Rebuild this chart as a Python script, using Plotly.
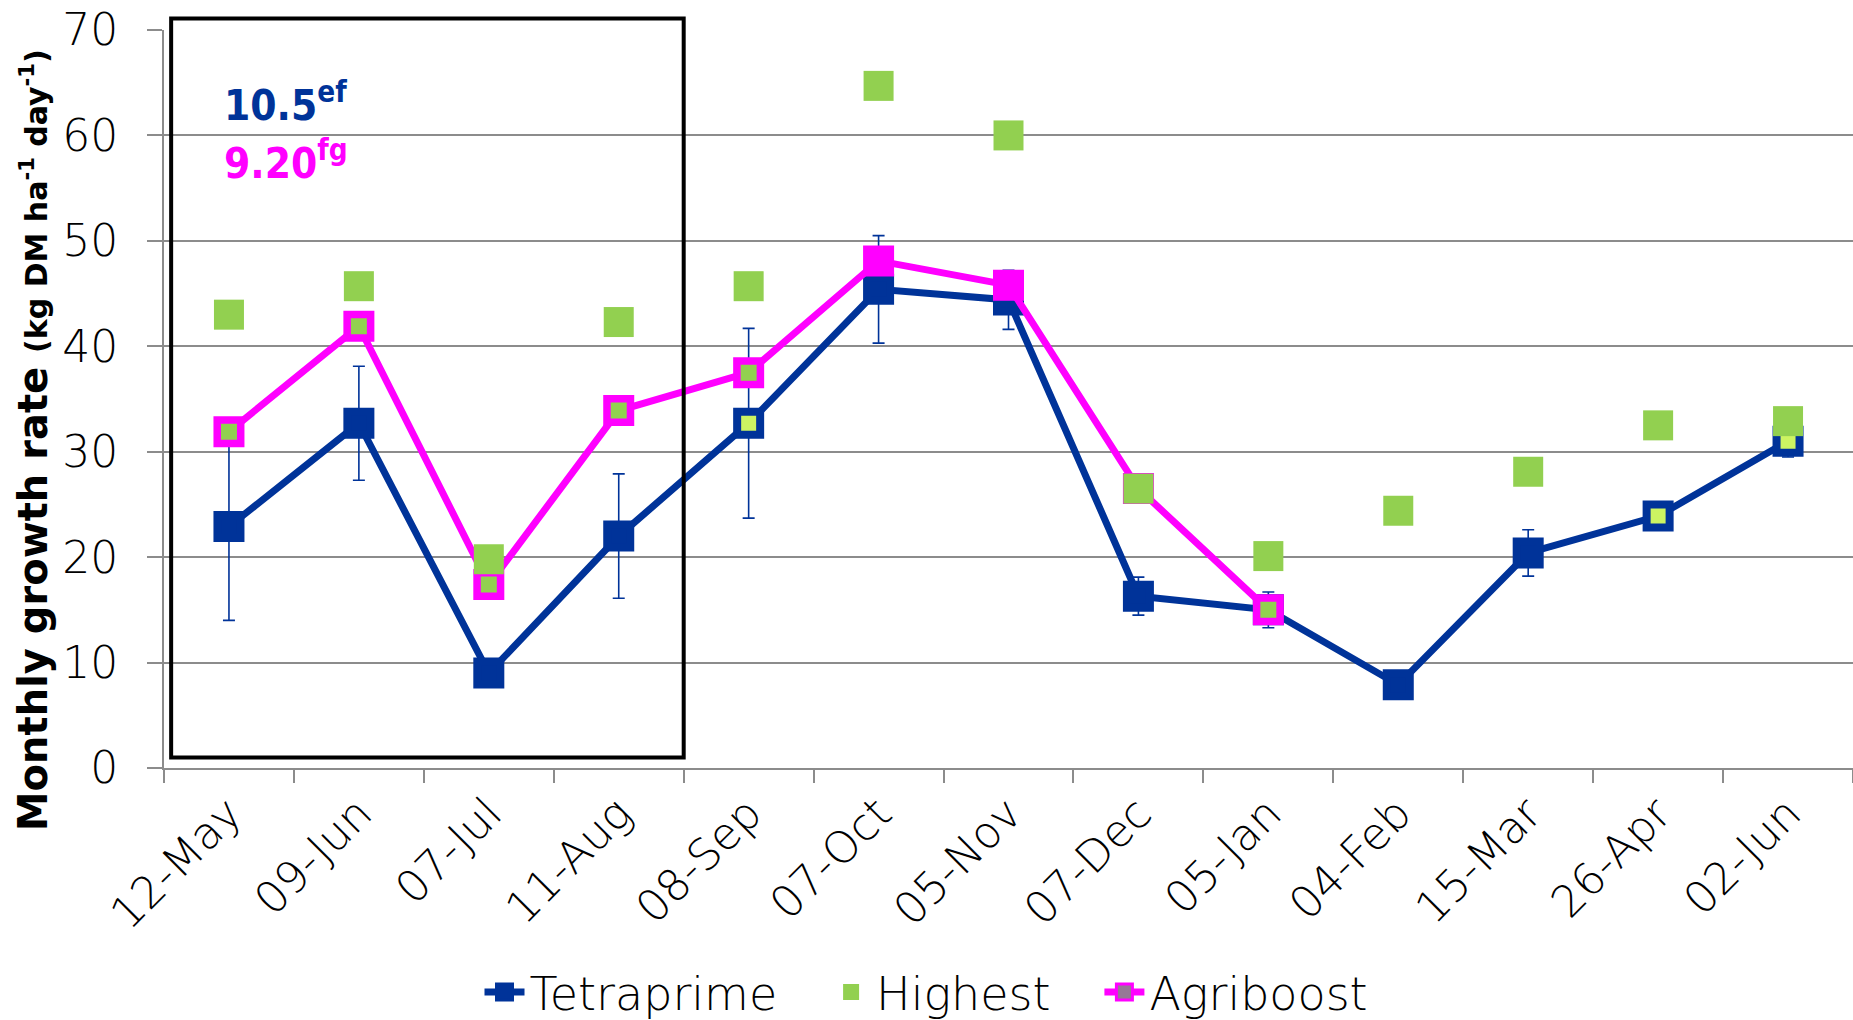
import plotly.graph_objects as go

# ---------------- data ----------------
categories = ["12-May", "09-Jun", "07-Jul", "11-Aug", "08-Sep", "07-Oct", "05-Nov",
              "07-Dec", "05-Jan", "04-Feb", "15-Mar", "26-Apr", "02-Jun"]
tetraprime = [22.9, 32.7, 9.0, 22.0, 32.7, 45.4, 44.4, 16.3, 15.0, 7.9, 20.4, 23.9, 31.0]
tetraprime_err = [8.9, 5.4, 0, 5.9, 9.0, 5.1, 2.8, 1.8, 1.7, 0, 2.2, 0, 1.5]
agriboost = [31.9, 41.9, 17.4, 33.9, 37.5, 48.1, 45.8, 26.5, 15.0, None, None, None, None]
highest = [43.0, 45.7, 19.8, 42.3, 45.7, 64.7, 60.0, 26.5, 20.1, 24.4, 28.1, 32.5, 32.9]

series_names = ["Tetraprime", "Highest", "Agriboost"]

# annotation texts / box extent (category index, value)
note_tetra = "10.5<sup>ef</sup>"
note_agri = "9.20<sup>fg</sup>"
box_cat = (-0.445, 3.5)
box_val = (1.0, 71.1)

# ---------------- styles ----------------
BLUE = "#003399"
PINK = "#FF00FF"
GREEN = "#92D050"
LIGHT = "#CCF462"
GRID = "#8C8C8C"
TICK_FONT = dict(family="DejaVu Sans", size=44, color="black", weight=300)

tetra_fill = [BLUE] * len(categories)
for i in (4, 11, 12):
    tetra_fill[i] = LIGHT
agri_fill = [GREEN] * len(categories)
for i in (5, 6):
    agri_fill[i] = PINK

W, H = 1853, 1020
L, R, T, B = 164, 0, 29.5, 252
YMAX = 70
n = len(categories)
PAD = "\u00a0\u00a0\u00a0"

fig = go.Figure()

fig.add_trace(go.Scatter(
    x=categories, y=tetraprime, mode="lines+markers", name=series_names[0],
    line=dict(color=BLUE, width=7),
    marker=dict(symbol="square", size=23, color=tetra_fill,
                line=dict(color=BLUE, width=8)),
    error_y=dict(type="data", array=tetraprime_err, visible=True,
                 color=BLUE, thickness=1.6, width=6),
    showlegend=False,
))
fig.add_trace(go.Scatter(
    x=categories, y=agriboost, mode="lines+markers", name=series_names[2],
    line=dict(color=PINK, width=7),
    marker=dict(symbol="square", size=23.5, color=agri_fill,
                line=dict(color=PINK, width=7.5)),
    connectgaps=False, showlegend=False,
))
fig.add_trace(go.Scatter(
    x=categories, y=highest, mode="markers", name=series_names[1],
    marker=dict(symbol="square", size=30, color=GREEN, line=dict(width=0)),
    showlegend=False,
))

# legend entries
fig.add_trace(go.Scatter(
    x=[None], y=[None], mode="lines+markers", name=series_names[0] + PAD,
    line=dict(color=BLUE, width=7),
    marker=dict(symbol="square", size=16, color=BLUE, line=dict(color=BLUE, width=3)),
))
fig.add_trace(go.Scatter(
    x=[None], y=[None], mode="markers", name=series_names[1] + PAD,
    marker=dict(symbol="square", size=16, color=GREEN),
))
fig.add_trace(go.Scatter(
    x=[None], y=[None], mode="lines+markers", name=series_names[2],
    line=dict(color=PINK, width=7),
    marker=dict(symbol="square", size=16, color="#967896", line=dict(color=PINK, width=3)),
))

plot_h = H - T - B
plot_w = W - L - R


def px_x(cat_idx):
    return (cat_idx + 0.5) / n


fig.add_shape(type="rect", xref="paper", yref="paper",
              x0=px_x(box_cat[0]), x1=px_x(box_cat[1]),
              y0=box_val[0] / YMAX, y1=box_val[1] / YMAX,
              line=dict(color="black", width=4), fillcolor="rgba(0,0,0,0)", layer="above")

ANN_FONT = "DejaVu Sans Condensed, Liberation Sans Narrow, Arial Narrow, sans-serif"
fig.add_annotation(text=f"<b>{note_tetra}</b>", xref="paper", yref="paper",
                   x=(222 - L) / plot_w, y=(H - B - 102) / plot_h,
                   xanchor="left", yanchor="middle", showarrow=False,
                   font=dict(family=ANN_FONT, size=42, color=BLUE))
fig.add_annotation(text=f"<b>{note_agri}</b>", xref="paper", yref="paper",
                   x=(222 - L) / plot_w, y=(H - B - 160) / plot_h,
                   xanchor="left", yanchor="middle", showarrow=False,
                   font=dict(family=ANN_FONT, size=42, color=PINK))

fig.add_annotation(
    text="<b>Monthly growth rate <span style='font-size:30px'>(kg DM ha<sup>-1</sup> day<sup>-1</sup>)</span></b>",
    xref="paper", yref="paper", x=(33 - L) / plot_w, y=(H - B - 440) / plot_h,
    xanchor="center", yanchor="middle", textangle=-90, showarrow=False,
    font=dict(family="DejaVu Sans", size=40, color="black"))

fig.update_layout(
    width=W, height=H,
    margin=dict(l=L, r=R, t=T, b=B, autoexpand=False),
    paper_bgcolor="white", plot_bgcolor="white",
    legend=dict(orientation="h", xref="container", yref="container",
                x=0.5, xanchor="center", y=(H - 992) / H, yanchor="middle",
                font=dict(family="DejaVu Sans", size=46, color="black", weight=300),
                itemwidth=40, tracegroupgap=0, bgcolor="rgba(0,0,0,0)"),
    xaxis=dict(type="category", categoryorder="array", categoryarray=categories,
               range=[-0.5, n - 0.5], tickson="boundaries", ticks="outside",
               ticklen=13, tickwidth=2, tickcolor=GRID, showline=True,
               linecolor=GRID, linewidth=2, showgrid=False, tickangle=-45,
               tickfont=TICK_FONT),
    yaxis=dict(range=[0, YMAX], dtick=10, showgrid=True, gridcolor=GRID, gridwidth=2,
               ticks="outside", ticklen=15, tickwidth=2, tickcolor=GRID,
               showline=True, linecolor=GRID, linewidth=2, zeroline=False,
               tickfont=TICK_FONT, ticklabelstandoff=20),
)

fig.write_html("out.html", config={"displayModeBar": False},
               post_script="document.body.style.margin='0';document.body.style.overflow='hidden';")
